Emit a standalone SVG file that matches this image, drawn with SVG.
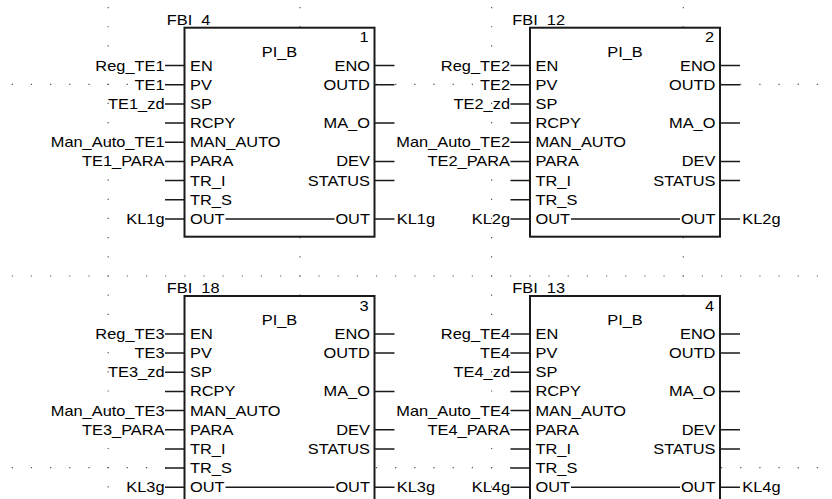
<svg xmlns="http://www.w3.org/2000/svg" xmlns:xlink="http://www.w3.org/1999/xlink" width="832" height="499" viewBox="0 0 832 499">
<style>
.t{font-family:"Liberation Sans",Arial,sans-serif;font-size:14px;fill:#000}
.r{text-anchor:end}
.m{text-anchor:middle}
.dot{stroke:#555;stroke-width:1.2;stroke-dasharray:1.2 17.97;fill:none}
.box{fill:#fff;stroke:#1a1a1a;stroke-width:2}
.pin{stroke:#1a1a1a;stroke-width:1.5;fill:none}
</style>
<defs>
<clipPath id="above"><rect x="-60" y="-40" width="160" height="38.6"/></clipPath>
<g id="frame">
<rect class="box" x="0" y="0" width="190" height="209"/>
<path class="pin" d="M-19.5 37.9H0M-19.5 57.1H0M-19.5 76.2H0M-19.5 95.4H0M-19.5 114.6H0M-19.5 133.8H0M-19.5 152.9H0M-19.5 172.1H0M-19.5 191.3H0M190 37.9H210M190 57.1H210M190 95.4H210M190 133.8H210M190 152.9H210M190 191.3H210M41 191.3H150"/>
</g>
</defs>
<rect width="832" height="499" fill="#fff"/>
<g id="grid">
<line class="dot" x1="11.7" y1="84.3" x2="832" y2="84.3"/>
<line class="dot" x1="11.7" y1="276" x2="832" y2="276"/>
<line class="dot" x1="11.7" y1="467.7" x2="832" y2="467.7"/>
<line class="dot" x1="108.2" y1="7" x2="108.2" y2="499"/>
<line class="dot" x1="299.9" y1="7" x2="299.9" y2="499"/>
<line class="dot" x1="491.6" y1="7" x2="491.6" y2="499"/>
<line class="dot" x1="683.3" y1="7" x2="683.3" y2="499"/>
</g>
<g id="connectors"/>
<g id="node1" transform="translate(184.5 27.7)">
<g transform="scale(1.17 1)" clip-path="url(#above)">
<text class="t" x="-15.2" y="-2.7">FBI_4</text>
</g>
<use xlink:href="#frame" href="#frame"/>
<g transform="scale(1.17 1)">
<text class="t r" x="157.3" y="14.6">1</text>
<text class="t m" x="81.2" y="29">PI_B</text>
<text class="t" x="4.7" y="42.9">EN</text>
<text class="t" x="4.7" y="62.1">PV</text>
<text class="t" x="4.7" y="81.2">SP</text>
<text class="t" x="4.7" y="100.4">RCPY</text>
<text class="t" x="4.7" y="119.6">MAN_AUTO</text>
<text class="t" x="4.7" y="138.8">PARA</text>
<text class="t" x="4.7" y="157.9">TR_I</text>
<text class="t" x="4.7" y="177.1">TR_S</text>
<text class="t" x="4.7" y="196.3">OUT</text>
<text class="t r" x="158.5" y="42.9">ENO</text>
<text class="t r" x="158.5" y="62.1">OUTD</text>
<text class="t r" x="158.5" y="100.4">MA_O</text>
<text class="t r" x="158.5" y="138.8">DEV</text>
<text class="t r" x="158.5" y="157.9">STATUS</text>
<text class="t r" x="158.5" y="196.3">OUT</text>
<text class="t r" x="-17.1" y="42.9">Reg_TE1</text>
<text class="t r" x="-17.1" y="62.1">TE1</text>
<text class="t r" x="-17.1" y="81.2">TE1_zd</text>
<text class="t r" x="-17.1" y="119.6">Man_Auto_TE1</text>
<text class="t r" x="-17.1" y="138.8">TE1_PARA</text>
<text class="t r" x="-17.1" y="196.3">KL1g</text>
<text class="t" x="181.5" y="196.3">KL1g</text>
</g>
</g>
<g id="node2" transform="translate(530 27.7)">
<g transform="scale(1.17 1)" clip-path="url(#above)">
<text class="t" x="-15.2" y="-2.7">FBI_12</text>
</g>
<use xlink:href="#frame" href="#frame"/>
<g transform="scale(1.17 1)">
<text class="t r" x="157.3" y="14.6">2</text>
<text class="t m" x="81.2" y="29">PI_B</text>
<text class="t" x="4.7" y="42.9">EN</text>
<text class="t" x="4.7" y="62.1">PV</text>
<text class="t" x="4.7" y="81.2">SP</text>
<text class="t" x="4.7" y="100.4">RCPY</text>
<text class="t" x="4.7" y="119.6">MAN_AUTO</text>
<text class="t" x="4.7" y="138.8">PARA</text>
<text class="t" x="4.7" y="157.9">TR_I</text>
<text class="t" x="4.7" y="177.1">TR_S</text>
<text class="t" x="4.7" y="196.3">OUT</text>
<text class="t r" x="158.5" y="42.9">ENO</text>
<text class="t r" x="158.5" y="62.1">OUTD</text>
<text class="t r" x="158.5" y="100.4">MA_O</text>
<text class="t r" x="158.5" y="138.8">DEV</text>
<text class="t r" x="158.5" y="157.9">STATUS</text>
<text class="t r" x="158.5" y="196.3">OUT</text>
<text class="t r" x="-17.1" y="42.9">Reg_TE2</text>
<text class="t r" x="-17.1" y="62.1">TE2</text>
<text class="t r" x="-17.1" y="81.2">TE2_zd</text>
<text class="t r" x="-17.1" y="119.6">Man_Auto_TE2</text>
<text class="t r" x="-17.1" y="138.8">TE2_PARA</text>
<text class="t r" x="-17.1" y="196.3">KL2g</text>
<text class="t" x="181.5" y="196.3">KL2g</text>
</g>
</g>
<g id="node3" transform="translate(184.5 296)">
<g transform="scale(1.17 1)" clip-path="url(#above)">
<text class="t" x="-15.2" y="-2.7">FBI_18</text>
</g>
<use xlink:href="#frame" href="#frame"/>
<g transform="scale(1.17 1)">
<text class="t r" x="157.3" y="14.6">3</text>
<text class="t m" x="81.2" y="29">PI_B</text>
<text class="t" x="4.7" y="42.9">EN</text>
<text class="t" x="4.7" y="62.1">PV</text>
<text class="t" x="4.7" y="81.2">SP</text>
<text class="t" x="4.7" y="100.4">RCPY</text>
<text class="t" x="4.7" y="119.6">MAN_AUTO</text>
<text class="t" x="4.7" y="138.8">PARA</text>
<text class="t" x="4.7" y="157.9">TR_I</text>
<text class="t" x="4.7" y="177.1">TR_S</text>
<text class="t" x="4.7" y="196.3">OUT</text>
<text class="t r" x="158.5" y="42.9">ENO</text>
<text class="t r" x="158.5" y="62.1">OUTD</text>
<text class="t r" x="158.5" y="100.4">MA_O</text>
<text class="t r" x="158.5" y="138.8">DEV</text>
<text class="t r" x="158.5" y="157.9">STATUS</text>
<text class="t r" x="158.5" y="196.3">OUT</text>
<text class="t r" x="-17.1" y="42.9">Reg_TE3</text>
<text class="t r" x="-17.1" y="62.1">TE3</text>
<text class="t r" x="-17.1" y="81.2">TE3_zd</text>
<text class="t r" x="-17.1" y="119.6">Man_Auto_TE3</text>
<text class="t r" x="-17.1" y="138.8">TE3_PARA</text>
<text class="t r" x="-17.1" y="196.3">KL3g</text>
<text class="t" x="181.5" y="196.3">KL3g</text>
</g>
</g>
<g id="node4" transform="translate(530 296)">
<g transform="scale(1.17 1)" clip-path="url(#above)">
<text class="t" x="-15.2" y="-2.7">FBI_13</text>
</g>
<use xlink:href="#frame" href="#frame"/>
<g transform="scale(1.17 1)">
<text class="t r" x="157.3" y="14.6">4</text>
<text class="t m" x="81.2" y="29">PI_B</text>
<text class="t" x="4.7" y="42.9">EN</text>
<text class="t" x="4.7" y="62.1">PV</text>
<text class="t" x="4.7" y="81.2">SP</text>
<text class="t" x="4.7" y="100.4">RCPY</text>
<text class="t" x="4.7" y="119.6">MAN_AUTO</text>
<text class="t" x="4.7" y="138.8">PARA</text>
<text class="t" x="4.7" y="157.9">TR_I</text>
<text class="t" x="4.7" y="177.1">TR_S</text>
<text class="t" x="4.7" y="196.3">OUT</text>
<text class="t r" x="158.5" y="42.9">ENO</text>
<text class="t r" x="158.5" y="62.1">OUTD</text>
<text class="t r" x="158.5" y="100.4">MA_O</text>
<text class="t r" x="158.5" y="138.8">DEV</text>
<text class="t r" x="158.5" y="157.9">STATUS</text>
<text class="t r" x="158.5" y="196.3">OUT</text>
<text class="t r" x="-17.1" y="42.9">Reg_TE4</text>
<text class="t r" x="-17.1" y="62.1">TE4</text>
<text class="t r" x="-17.1" y="81.2">TE4_zd</text>
<text class="t r" x="-17.1" y="119.6">Man_Auto_TE4</text>
<text class="t r" x="-17.1" y="138.8">TE4_PARA</text>
<text class="t r" x="-17.1" y="196.3">KL4g</text>
<text class="t" x="181.5" y="196.3">KL4g</text>
</g>
</g>
</svg>
